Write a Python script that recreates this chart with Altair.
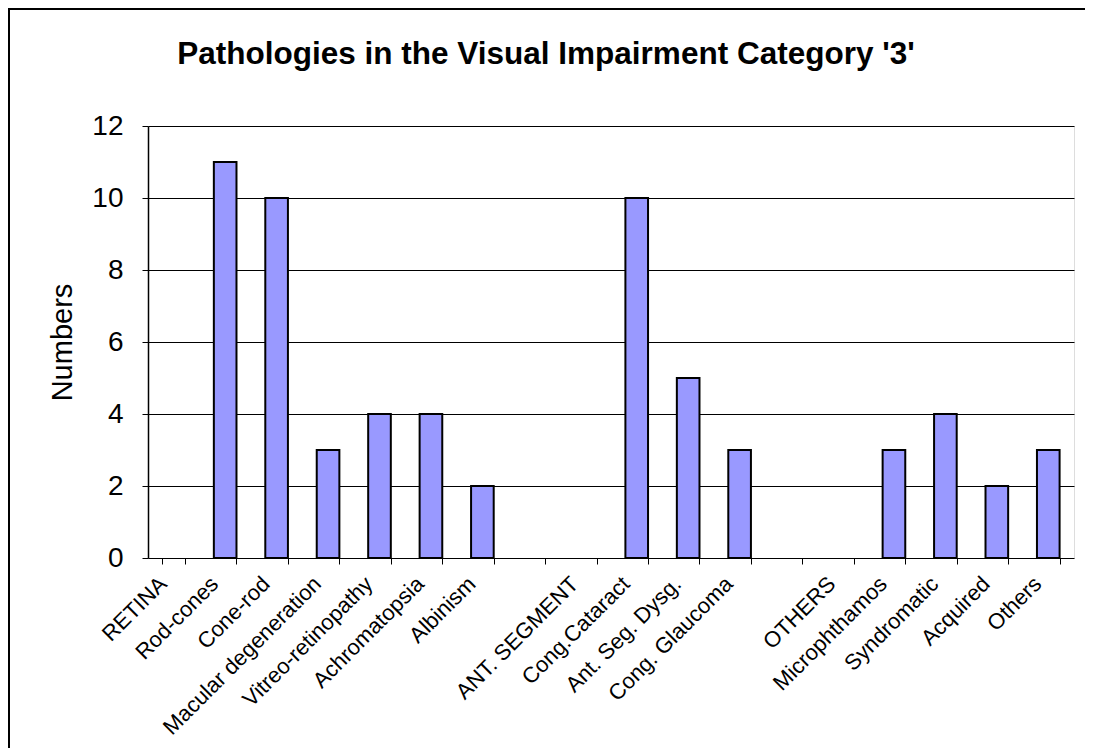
import altair as alt
import pandas as pd

categories = ["RETINA", "Rod-cones", "Cone-rod", "Macular degeneration", "Vitreo-retinopathy",
              "Achromatopsia", "Albinism", " ", "ANT. SEGMENT", "Cong.Cataract",
              "Ant. Seg. Dysg.", "Cong. Glaucoma", "  ", "OTHERS", "Microphthamos",
              "Syndromatic", "Acquired", "Others"]
values = [0, 11, 10, 3, 4, 4, 2, 0, 0, 10, 5, 3, 0, 0, 3, 4, 2, 3]

df = pd.DataFrame({"category": categories, "value": values})
frame_df = pd.DataFrame({"k": [0]})
FONT = "Liberation Sans"
W, H = 926, 432

x = alt.X("category:N", sort=categories, title=None,
          scale=alt.Scale(paddingInner=0.56, paddingOuter=0.28),
          axis=alt.Axis(labelAngle=-45, labelAlign="right", labelBaseline="middle",
                        labelFontSize=22, labelFont=FONT, labelColor="black",
                        labelPadding=16, labelOffset=-11, tickBand="extent",
                        tickColor="black", tickSize=6, domainColor="black",
                        domain=False, grid=False, labelOverlap=False, labelLimit=400))
y = alt.Y("value:Q", title="Numbers",
          scale=alt.Scale(domain=[0, 12], nice=False),
          axis=alt.Axis(values=[0, 2, 4, 6, 8, 10, 12], labelFontSize=28, labelFont=FONT,
                        labelColor="black", labelPadding=19, tickSize=6, tickColor="black",
                        domainColor="black", domainWidth=1.5, gridColor="black", gridWidth=1,
                        titleFontSize=29, titleFont=FONT, titleFontWeight="normal",
                        titleColor="black", titlePadding=14))

bars = alt.Chart(df).mark_bar(color="#9999FF", stroke="black", strokeWidth=2).encode(
    x=x, y=y, tooltip=["category", "value"]
).transform_filter(alt.datum.value > 0)

base = alt.Chart(df).mark_bar(opacity=0).encode(x=x, y=y)

frame = alt.Chart(frame_df).mark_rect(fillOpacity=0, stroke="black", strokeWidth=2).encode(
    x=alt.value(-139), x2=alt.value(1000), y=alt.value(-117), y2=alt.value(700))

chart = alt.layer(base, bars, frame).properties(
    width=W, height=H,
    title=alt.TitleParams("Pathologies in the Visual Impairment Category '3'",
                          font=FONT, fontSize=31.5, fontWeight="bold", color="black",
                          anchor="middle", frame="group", dx=-65, offset=-87,
                          baseline="alphabetic"),
    autosize=alt.AutoSizeParams(type="none"),
    padding={"left": 140, "top": 118, "right": 11, "bottom": 190},
).configure_view(fill="#C0C0C0", stroke="#808080", strokeWidth=2
).configure(background="white")

chart.save("out.html", embed_options={"renderer": "svg", "actions": False})
